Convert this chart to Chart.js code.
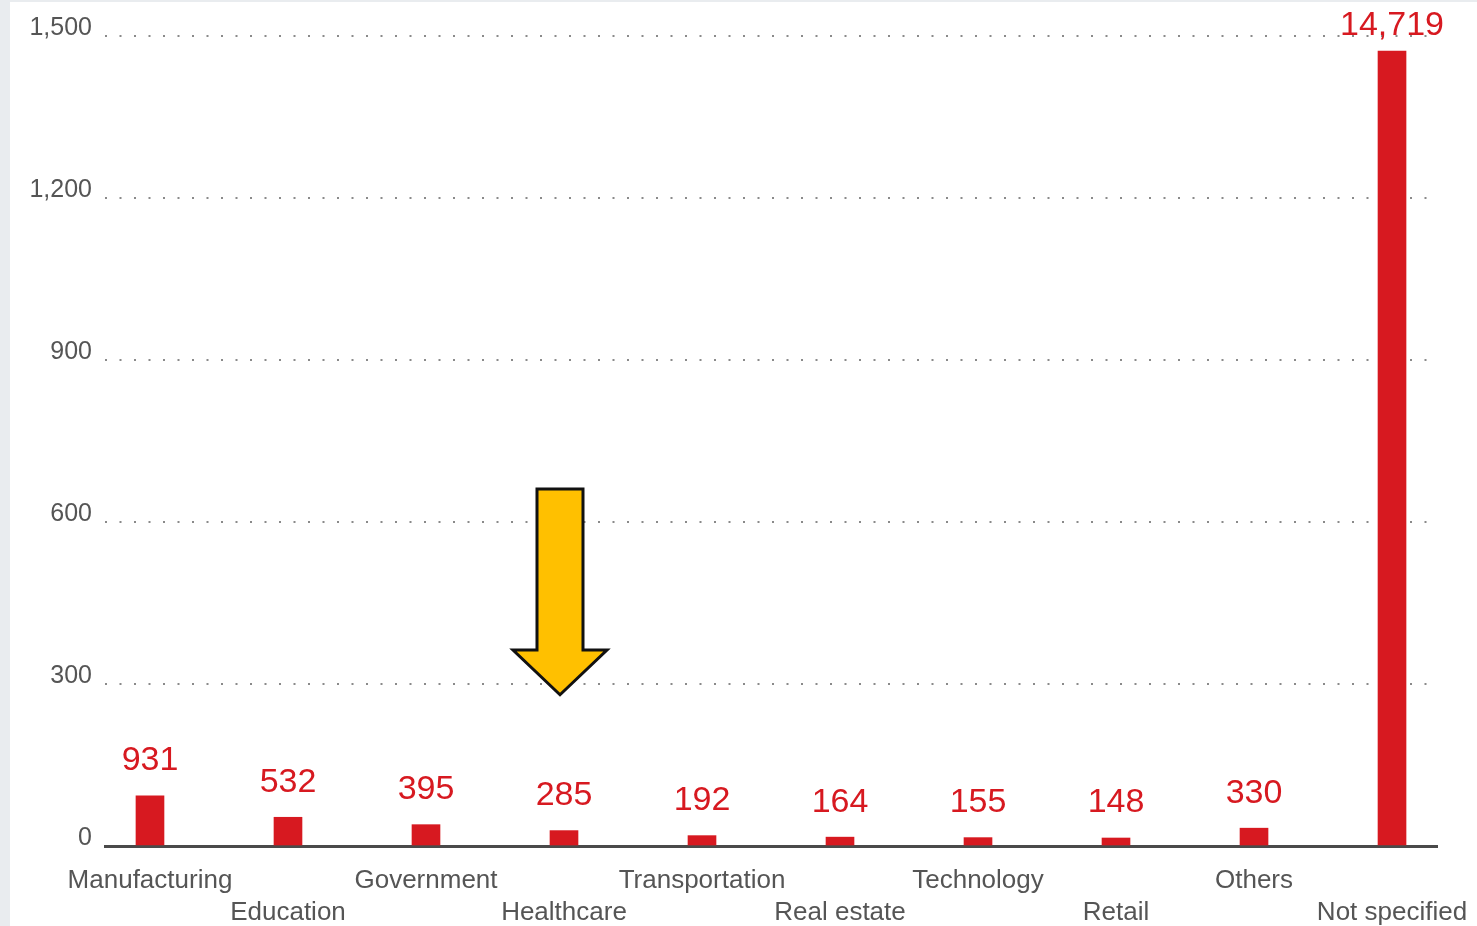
<!DOCTYPE html>
<html>
<head>
<meta charset="utf-8">
<script src="https://cdn.jsdelivr.net/npm/chart.js@4.4.1/dist/chart.umd.min.js"></script>
<style>
  html, body { margin: 0; padding: 0; background: #e9ecef; }
  #wrap { position: absolute; left: 10px; top: 2px; width: 1467px; height: 924px; background: #fff; }
</style>
</head>
<body>
<div id="wrap"><canvas id="bars"></canvas></div>
<script>
// categories along the bottom, alternating between two rows
var categories = ["Manufacturing", "Education", "Government", "Healthcare", "Transportation",
  "Real estate", "Technology", "Retail", "Others", "Not specified"];
// counts printed above the bars
var counts = [931, 532, 395, 285, 192, 164, 155, 148, 330, 14719];
// bar heights as drawn on the 0-1,500 axis (one tenth of the count)
var heights = [93.1, 53.2, 39.5, 28.5, 19.2, 16.4, 15.5, 14.8, 33.0, 1471.9];
var yTicks = [0, 300, 600, 900, 1200, 1500];

var red = '#d71920';
var grey = '#555';

// value labels above each bar
var valueLabels = {
  id: 'valueLabels',
  afterDatasetsDraw: function(chart) {
    var ctx = chart.ctx;
    var meta = chart.getDatasetMeta(0);
    ctx.save();
    ctx.fillStyle = red;
    ctx.font = '34px "Liberation Sans", Arial, sans-serif';
    ctx.textAlign = 'center';
    ctx.textBaseline = 'bottom';
    meta.data.forEach(function(bar, i) {
      var gap = i === counts.length - 1 ? 9 : 18;
      ctx.fillText(counts[i].toLocaleString('en-US'), bar.x, bar.y - gap);
    });
    ctx.restore();
  }
};

// yellow arrow pointing down at Healthcare
var arrow = {
  id: 'arrow',
  afterDraw: function(chart) {
    var x = chart.scales.x.getPixelForValue(3) - 4;
    var yTop = chart.scales.y.getPixelForValue(661);
    var yNeck = chart.scales.y.getPixelForValue(363);
    var yTip = chart.scales.y.getPixelForValue(280);
    var ctx = chart.ctx;
    ctx.save();
    ctx.beginPath();
    ctx.moveTo(x - 23, yTop);
    ctx.lineTo(x + 23, yTop);
    ctx.lineTo(x + 23, yNeck);
    ctx.lineTo(x + 47, yNeck);
    ctx.lineTo(x, yTip);
    ctx.lineTo(x - 47, yNeck);
    ctx.lineTo(x - 23, yNeck);
    ctx.closePath();
    ctx.fillStyle = '#ffc000';
    ctx.fill();
    ctx.lineWidth = 3;
    ctx.lineJoin = 'miter';
    ctx.strokeStyle = '#111';
    ctx.stroke();
    ctx.restore();
  }
};

new Chart(document.getElementById('bars'), {
  type: 'bar',
  data: {
    datasets: [{
      data: heights.map(function(v, i) { return { x: i, y: v }; }),
      backgroundColor: red,
      barThickness: 28
    }]
  },
  options: {
    responsive: true,
    maintainAspectRatio: false,
    animation: false,
    layout: { padding: { top: 34, right: 40, left: 0, bottom: 0 } },
    plugins: { legend: { display: false }, tooltip: { enabled: false } },
    scales: {
      x: {
        type: 'linear',
        offset: false,
        min: -0.326,
        max: 9.326,
        afterBuildTicks: function(scale) {
          scale.ticks = categories.map(function(c, i) { return { value: i }; });
        },
        afterFit: function(scale) {
          scale.height = 80;
          scale.paddingLeft = 0;
          scale.paddingRight = 0;
        },
        grid: { display: false, drawTicks: false, offset: false },
        border: { display: true, color: '#4a4a4a', width: 3 },
        ticks: {
          autoSkip: false,
          maxRotation: 0,
          padding: 19,
          color: grey,
          font: { family: '"Liberation Sans", Arial, sans-serif', size: 26, lineHeight: 1.23 },
          callback: function(v) {
            return v % 2 === 0 ? [categories[v], ''] : ['', categories[v]];
          }
        }
      },
      y: {
        min: 0,
        max: 1500,
        afterBuildTicks: function(scale) {
          scale.ticks = yTicks.map(function(v) { return { value: v }; });
        },
        afterFit: function(scale) { scale.width = 95; },
        grid: { color: '#8a8a8a', lineWidth: 2, drawTicks: false },
        border: { display: false, dash: [2, 12.5] },
        ticks: {
          padding: 13,
          labelOffset: -8,
          color: grey,
          font: { family: '"Liberation Sans", Arial, sans-serif', size: 25 },
          callback: function(v) { return v.toLocaleString('en-US'); }
        }
      }
    }
  },
  plugins: [valueLabels, arrow]
});
</script>
</body>
</html>
